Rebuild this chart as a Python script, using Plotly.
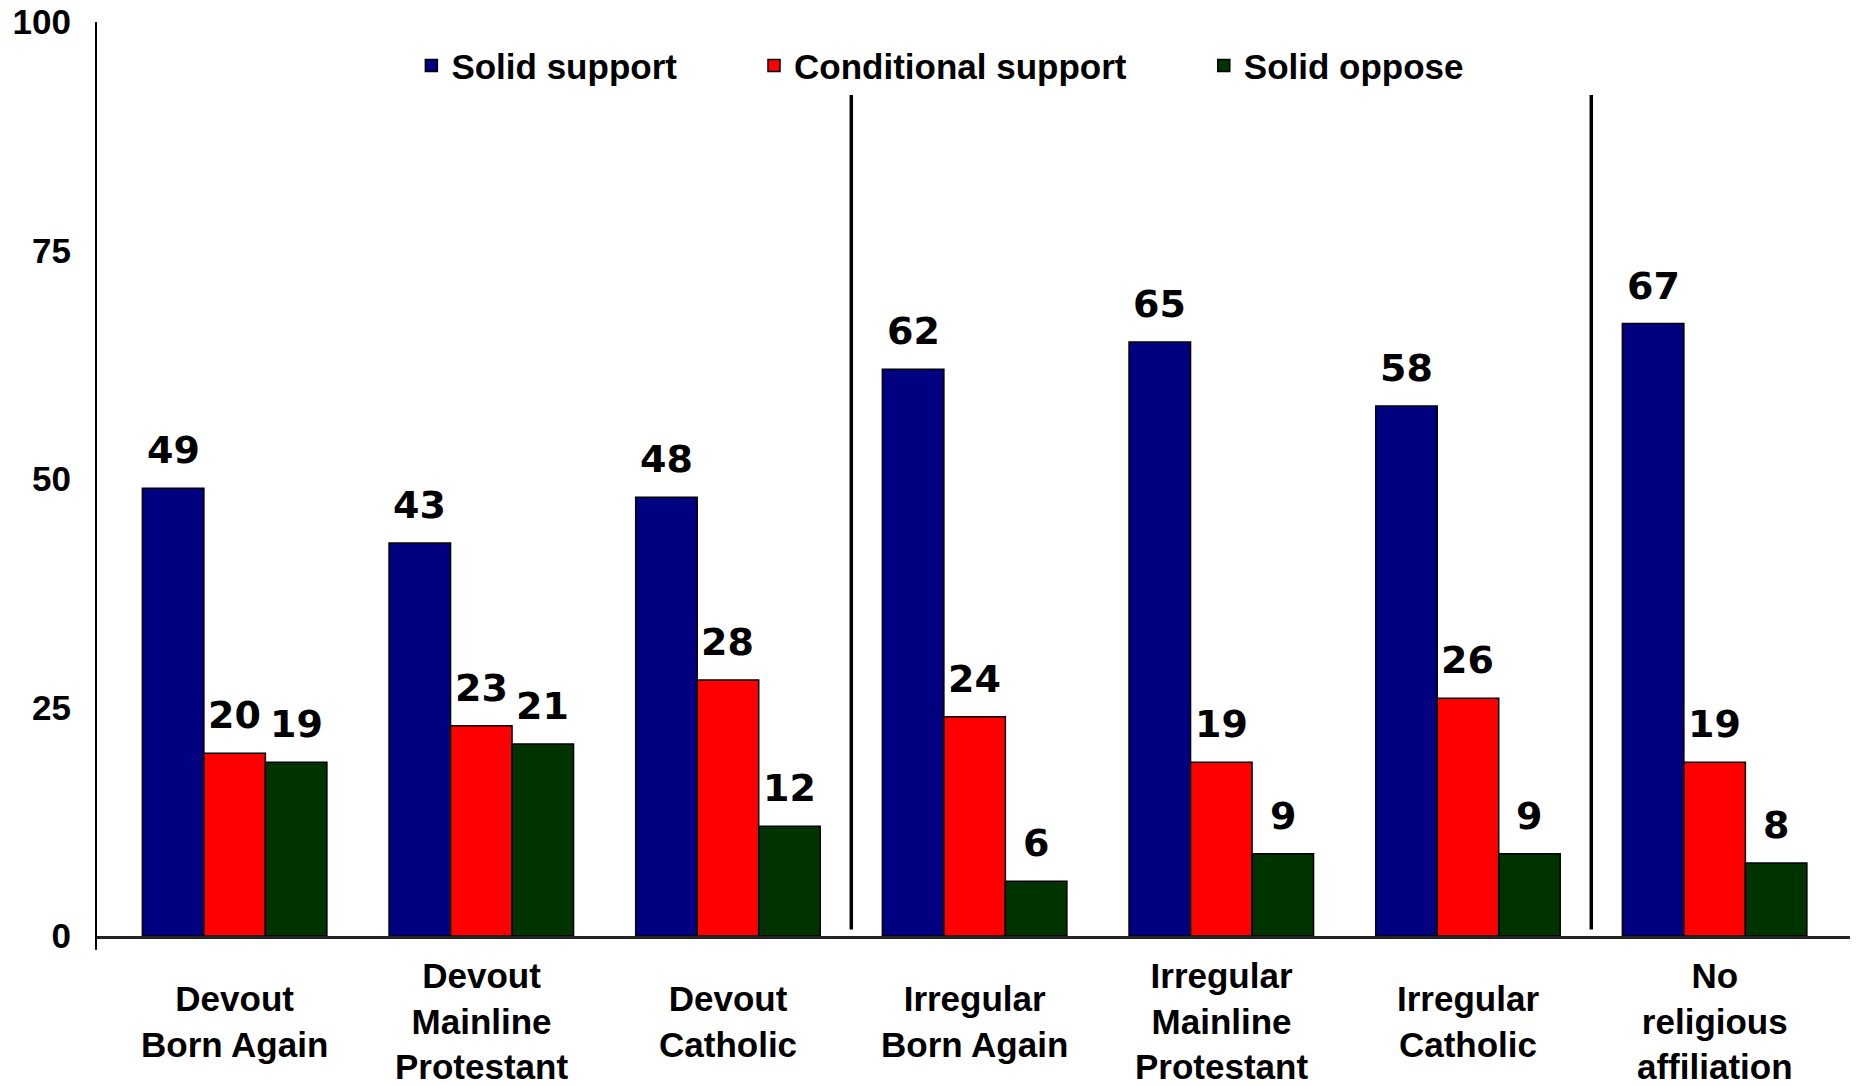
import plotly.graph_objects as go

# ---- data ----
categories = ["Devout<br>Born Again", "Devout<br>Mainline<br>Protestant", "Devout<br>Catholic",
              "Irregular<br>Born Again", "Irregular<br>Mainline<br>Protestant", "Irregular<br>Catholic",
              "No<br>religious<br>affiliation"]
series_names = ["Solid support", "Conditional support", "Solid oppose"]
solid_support = [49, 43, 48, 62, 65, 58, 67]
conditional_support = [20, 23, 28, 24, 19, 26, 19]
solid_oppose = [19, 21, 12, 6, 9, 9, 8]
y_ticks = [0, 25, 50, 75, 100]
separator_positions = [2.5, 5.5]

# ---- style ----
colors = ["#000080", "#FF0000", "#003300"]
BARGAP = 0.252
# the page body has an 8px margin, so the figure is drawn 8px in from the corner
W, H = 1850, 1078
ML, MR, MT, MB = 88, 5, 14, 150

series = [solid_support, conditional_support, solid_oppose]
x_idx = list(range(len(categories)))

fig = go.Figure()
legend_ids = ["legend", "legend2", "legend3"]
for k, (name, vals) in enumerate(zip(series_names, series)):
    fig.add_trace(go.Bar(
        x=x_idx, y=vals, name=name,
        marker=dict(color=colors[k], line=dict(color="black", width=1.5)),
        legend=legend_ids[k],
    ))

# data labels
bw = (1 - BARGAP) / 3
annotations = []
for k, vals in enumerate(series):
    for i, v in enumerate(vals):
        annotations.append(dict(
            x=i + (k - 1) * bw, y=v, xref="x", yref="y",
            text=str(v), showarrow=False, yanchor="middle", yshift=38,
            font=dict(family="DejaVu Sans", size=38, color="black", weight="bold"),
        ))

# category labels (vertically centred multi-line)
for i, c in enumerate(categories):
    annotations.append(dict(
        x=i, y=0, xref="x", yref="paper", text="<b>%s</b>" % c, showarrow=False,
        yanchor="middle", yshift=-85,
        font=dict(family="Liberation Sans, Arial", size=35, color="black"),
    ))

shapes = []
for sx in separator_positions:
    shapes.append(dict(type="line", xref="x", yref="y", x0=sx, x1=sx, y0=0.7, y1=92,
                       line=dict(color="black", width=3.5)))
# left & right frame lines
shapes.append(dict(type="line", xref="paper", yref="paper", x0=0, x1=0, y0=-0.015, y1=1.0,
                   line=dict(color="black", width=2)))
shapes.append(dict(type="line", xref="paper", yref="paper", x0=1, x1=1, y0=-0.013, y1=1.024,
                   line=dict(color="black", width=2)))

legend_font = dict(family="Liberation Sans, Arial", size=35, color="black", weight="bold")
legend_x = [0.1795, 0.3745, 0.6305]
layout_legends = {}
for lid, lx in zip(legend_ids, legend_x):
    layout_legends[lid] = dict(x=lx, y=0.952, xanchor="left", yanchor="middle",
                               orientation="h", bgcolor="rgba(0,0,0,0)", font=legend_font)

fig.update_layout(
    width=W, height=H,
    margin=dict(l=ML, r=MR, t=MT, b=MB, pad=0),
    paper_bgcolor="white", plot_bgcolor="white",
    barmode="group", bargap=BARGAP, bargroupgap=0,
    showlegend=True,
    annotations=annotations, shapes=shapes,
    xaxis=dict(range=[-0.562, 6.561], showticklabels=False, showgrid=False, zeroline=False,
               showline=True, linecolor="#222", linewidth=3, ticks=""),
    yaxis=dict(range=[0, 100], tickvals=y_ticks, showgrid=False, zeroline=False, showline=False,
               ticks="", ticklabelstandoff=24, automargin=False, ticklabeloverflow="allow",
               tickfont=dict(family="Liberation Sans, Arial", size=35, color="black", weight="bold")),
    **layout_legends,
)

fig.write_html("out.html")
